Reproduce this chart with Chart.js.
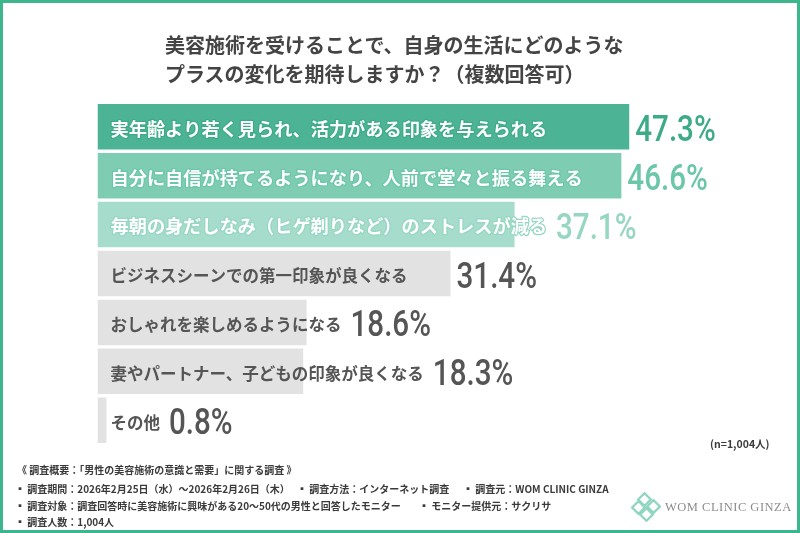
<!DOCTYPE html>
<html lang="ja">
<head>
<meta charset="utf-8">
<script src="https://cdn.jsdelivr.net/npm/chart.js@4.4.1/dist/chart.umd.min.js"></script>
<style>
  html, body { margin: 0; padding: 0; background: #fff; }
  #frame {
    position: relative; width: 800px; height: 533px; box-sizing: border-box;
    border: 3px solid #3db58d; overflow: hidden; background: #fff;
    font-family: "Noto Sans CJK JP", "Noto Sans", sans-serif; color: #444;
  }
  #chartCanvas { position: absolute; left: -3px; top: -3px; }
  .title { position: absolute; left: 162px; font-size: 20px; font-weight: 700; color: #444; white-space: nowrap; line-height: 1; }
  .note { position: absolute; font-size: 10px; font-weight: 700; color: #3a3a3a; white-space: nowrap; line-height: 1; }
  .logo { position: absolute; left: 628px; top: 489px; }
  .logoText { position: absolute; left: 662px; top: 497px; font-family: "Liberation Serif", "DejaVu Serif", serif; font-size: 12.5px; color: #8c8c8c; letter-spacing: 0.5px; white-space: nowrap; }
</style>
</head>
<body>
<div id="frame">
  <canvas id="chartCanvas" width="800" height="533"></canvas>
  <div class="title" style="top:32px">美容施術を受けることで、自身の生活にどのような</div>
  <div class="title" style="top:61px">プラスの変化を期待しますか？（複数回答可）</div>
  <div class="note" style="left:707px; top:436px; font-size:10.5px">(n=1,004人)</div>
  <div class="note" style="left:14px; top:462px">《 調査概要：「男性の美容施術の意識と需要」に関する調査 》</div>
  <div class="note" style="left:12px; top:481px">▪ 調査期間：2026年2月25日（水）～2026年2月26日（木）</div>
  <div class="note" style="left:294px; top:481px">▪ 調査方法：インターネット調査</div>
  <div class="note" style="left:460px; top:481px">▪ 調査元：WOM CLINIC GINZA</div>
  <div class="note" style="left:12px; top:498px">▪ 調査対象：調査回答時に美容施術に興味がある20～50代の男性と回答したモニター</div>
  <div class="note" style="left:416px; top:498px">▪ モニター提供元：サクリサ</div>
  <div class="note" style="left:12px; top:514px">▪ 調査人数：1,004人</div>
  <svg class="logo" width="30" height="30" viewBox="0 0 30 30">
    <g fill="none" stroke="#8fd6c0" stroke-width="2.2">
      <rect x="9" y="3" width="9" height="9" transform="rotate(45 13.5 7.5)"/>
      <rect x="11" y="18" width="9" height="9" transform="rotate(45 15.5 22.5)" />
      <rect x="3" y="11" width="9" height="9" transform="rotate(45 7.5 15.5)"/>
      <rect x="18" y="10" width="9" height="9" transform="rotate(45 22.5 14.5)"/>
    </g>
  </svg>
  <div class="logoText">WOM CLINIC GINZA</div>
</div>
<script>
const categories = [
  '実年齢より若く見られ、活力がある印象を与えられる',
  '自分に自信が持てるようになり、人前で堂々と振る舞える',
  '毎朝の身だしなみ（ヒゲ剃りなど）のストレスが減る',
  'ビジネスシーンでの第一印象が良くなる',
  'おしゃれを楽しめるようになる',
  '妻やパートナー、子どもの印象が良くなる',
  'その他'
];
const values = [47.3, 46.6, 37.1, 31.4, 18.6, 18.3, 0.8];

const barColors = ['#4cb495', '#7ecdb3', '#a6dccb', '#e2e2e2', '#e2e2e2', '#e2e2e2', '#e2e2e2'];
const nameColors = ['#fff', '#fff', '#fff', '#555', '#555', '#555', '#555'];
const valueColors = ['#3eab88', '#6cc6a9', '#97d6c1', '#555', '#555', '#555', '#555'];
const nameSizes = [18.2, 18.2, 18.2, 16.5, 16.5, 16.5, 16.5];

// writes category name inside each bar and the percent after it
const barLabels = {
  id: 'barLabels',
  afterDatasetsDraw(chart) {
    const ctx = chart.ctx;
    const meta = chart.getDatasetMeta(0);
    meta.data.forEach((bar, i) => {
      const left = bar.base;
      ctx.save();
      ctx.font = '700 ' + nameSizes[i] + 'px "Noto Sans CJK JP"';
      ctx.textBaseline = 'middle';
      ctx.textAlign = 'left';
      const nameX = left + 13;
      if (nameColors[i] === '#fff') {
        // white text gets an outline so the part past the bar still shows
        ctx.strokeStyle = valueColors[i];
        ctx.lineWidth = 2.5;
        ctx.lineJoin = 'round';
        ctx.strokeText(categories[i], nameX, bar.y + 2);
      }
      ctx.fillStyle = nameColors[i];
      ctx.fillText(categories[i], nameX, bar.y + 2);
      const nameEnd = nameX + ctx.measureText(categories[i]).width;

      const valX = Math.max(bar.x + 6, nameEnd + 9);
      ctx.font = '500 37px Roboto';
      ctx.fillStyle = valueColors[i];
      ctx.textBaseline = 'alphabetic';
      ctx.translate(valX, bar.y + 14);
      ctx.scale(0.8, 1);
      ctx.fillText(values[i].toFixed(1) + '%', 0, 0);
      ctx.restore();
    });
  }
};

const ctx = document.getElementById('chartCanvas').getContext('2d');
new Chart(ctx, {
  type: 'bar',
  data: {
    labels: categories,
    datasets: [{
      data: values,
      backgroundColor: barColors,
      borderWidth: 0,
      barPercentage: 0.93,
      categoryPercentage: 1
    }]
  },
  options: {
    indexAxis: 'y',
    responsive: false,
    animation: false,
    layout: { padding: { left: 97.5, right: 28, top: 102.3, bottom: 88.3 } },
    plugins: { legend: { display: false }, tooltip: { enabled: false } },
    scales: {
      x: { display: false, min: 0, max: 60 },
      y: { display: false }
    }
  },
  plugins: [barLabels]
});
</script>
</body>
</html>
